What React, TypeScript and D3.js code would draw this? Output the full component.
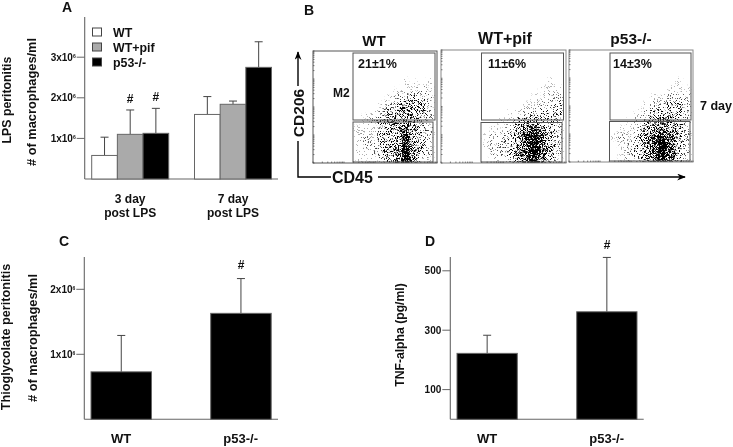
import React from "react";
import * as d3 from "d3";

const FONT = "'Liberation Sans', Arial, sans-serif";
const DARK = "#111";
const AXIS = "#666";

// Panel A
const groupsA = ["3 day", "7 day"];
const seriesA = ["WT", "WT+pif", "p53-/-"];
const fillsA = ["#ffffff", "#aaaaaa", "#000000"];
const meansA = [[0.58, 1.1, 1.125], [1.59, 1.84, 2.75]];
const errTopsA = [[1.03, 1.7, 1.74], [2.03, 1.92, 3.38]];
const marksA = [["", "#", "#"], ["", "", ""]];
const ticksA = [1, 2, 3];

// Panel C
const catsCD = ["WT", "p53-/-"];
const meansC = [0.73, 1.63];
const errTopsC = [1.29, 2.165];
const ticksC = [1, 2];

// Panel D
const meansD = [222, 362];
const errTopsD = [283, 545];
const ticksD = [100, 300, 500];

// Panel B: flow cytometry density (0 empty .. 9 solid)
const flowTitles = ["WT", "WT+pif", "p53-/-"];
const flowPercents = ["21±1%", "11±6%", "14±3%"];
const densityWT = [
  [0,0,0,0,0,0,0,0,0,0],[0,0,0,0,0,0,0,0,0,0],[0,0,0,0,0,0,0,0,0,0],
  [0,0,0,0,0,0,1,1,0,1],[0,0,0,0,0,1,1,1,2,1],[0,0,0,0,1,2,2,3,3,2],
  [0,0,0,1,2,3,4,4,4,2],[0,1,1,2,4,5,5,4,4,2],[0,1,2,3,5,5,5,4,3,2],
  [1,1,1,3,4,5,6,4,3,2],[1,2,1,3,4,5,8,4,3,2],[1,2,2,3,4,5,9,5,3,1],
  [1,1,2,3,4,5,9,5,3,2],[1,1,1,2,3,5,9,5,2,1],
];
const densityPif = [
  [0,0,0,0,0,0,0,0,0,0],[0,0,0,0,0,0,0,0,0,0],[0,0,0,0,0,0,0,0,0,0],
  [0,0,0,0,0,0,0,0,1,0],[0,0,0,0,0,0,0,1,1,1],[0,0,0,0,0,0,1,1,2,2],
  [0,0,0,0,0,1,1,2,2,3],[0,0,0,1,1,2,3,3,3,3],[0,0,1,1,3,4,4,3,3,2],
  [0,1,1,2,4,6,7,5,3,2],[1,2,2,3,4,7,9,6,4,2],[1,2,2,3,4,7,9,7,4,2],
  [0,2,2,3,5,7,9,6,4,2],[0,1,1,2,4,6,9,6,3,1],
];
const densityP53 = [
  [0,0,0,0,0,0,0,0,0,0],[0,0,0,0,0,0,0,0,0,0],[0,0,0,0,0,0,0,0,0,0],
  [0,0,0,0,0,0,0,0,1,0],[0,0,0,0,0,0,0,1,1,1],[0,0,0,0,0,1,1,2,2,2],
  [0,0,0,0,1,2,2,3,3,2],[0,0,0,1,2,3,3,3,3,2],[0,0,1,2,3,4,5,4,3,2],
  [0,1,1,2,4,5,6,5,4,2],[1,2,1,3,5,7,8,6,4,2],[0,1,2,3,5,7,9,7,4,2],
  [0,1,2,3,4,7,9,7,3,2],[0,1,2,2,4,6,8,6,3,1],
];
const densities = [densityWT, densityPif, densityP53];
const frames = [
  { x0: 313, x1: 437, y0: 51, y1: 163, ux0: 353, ux1: 435, lx0: 353, lx1: 433, uy1: 120, ly0: 122, ly1: 162 },
  { x0: 441, x1: 566, y0: 50, y1: 163, ux0: 481.5, ux1: 563.5, lx0: 481, lx1: 562, uy1: 120, ly0: 122.5, ly1: 162 },
  { x0: 569, x1: 693, y0: 50, y1: 162, ux0: 610, ux1: 691, lx0: 609.5, lx1: 690, uy1: 120, ly0: 121.5, ly1: 161 },
];
const titleX = [374, 505, 631];
const titleY = [46, 44, 44];
const titleSize = [15, 16, 15.5];
const pctX = [358, 488, 613];

const T = (p: any) => (
  <text fontFamily={FONT} fontWeight={700} fill={DARK} {...p} />
);
const Rot = ({ x, y, size, children }: any) => (
  <text fontFamily={FONT} fontWeight={700} fill={DARK} fontSize={size} textAnchor="middle"
    transform={`translate(${x},${y}) rotate(-90)`}>{children}</text>
);

function YAxis({ y, x, ticks, right, top, label }: any) {
  const y0 = y(0);
  return (
    <g>
      <line x1={x} x2={x} y1={top} y2={y0} stroke={AXIS} strokeWidth={1.1} />
      <line x1={x} x2={right} y1={y0} y2={y0} stroke={AXIS} strokeWidth={1.1} />
      {ticks.map((t: number) => (
        <g key={t}>
          <line x1={x - 8} x2={x} y1={y(t)} y2={y(t)} stroke={AXIS} strokeWidth={1} />
          {label(t, x - 9, y(t))}
        </g>
      ))}
    </g>
  );
}
const expLabel = (t: number, x: number, y: number) => (
  <T x={x} y={y + 3.5} fontSize={10} textAnchor="end">
    {t}x10<tspan fontSize={5} dy={-3}>6</tspan>
  </T>
);
const plainLabel = (t: number, x: number, y: number) => (
  <T x={x} y={y + 3.5} fontSize={10} textAnchor="end">{t}</T>
);

function Bar({ x, w, y, mean, top, fill }: any) {
  const cx = x + w / 2;
  return (
    <g>
      <line x1={cx} x2={cx} y1={y(top)} y2={y(mean)} stroke="#444" strokeWidth={1} />
      <line x1={cx - 4} x2={cx + 4} y1={y(top)} y2={y(top)} stroke="#444" strokeWidth={1} />
      <rect x={x} y={y(mean)} width={w} height={y(0) - y(mean)} fill={fill} stroke="#666" strokeWidth={1} />
    </g>
  );
}

function Flow({ i }: { i: number }) {
  const f = frames[i];
  const grid = densities[i];
  const xc = d3.scaleBand<number>().domain(d3.range(10)).range([f.lx0, f.lx1 + 1]);
  const yc = d3.scaleBand<number>().domain(d3.range(14)).range([53, 165]);
  const op = d3.scaleLinear().domain([0, 9]).range([0, 1]);
  const ly = d3.scaleLog().domain([1, 10000]).range([f.y1, f.y0]);
  const lx = d3.scaleLog().domain([1, 10000]).range([f.x0, f.x1]);
  const ticks = lx.ticks();
  return (
    <g>
      <g clipPath={`url(#clip${i})`}>
        <g filter={`url(#stipple${i})`}>
          {grid.map((row, r) => row.map((v, c) => v > 0 && (
            <rect key={`${r}-${c}`} x={xc(c)} y={yc(r)} width={xc.bandwidth()} height={yc.bandwidth()} fill="#000" fillOpacity={op(v)} />
          )))}
        </g>
      </g>
      <rect x={f.x0} y={f.y0} width={f.x1 - f.x0} height={f.y1 - f.y0} fill="none" stroke={i === 0 ? "#555" : "#888"} strokeWidth={1} />
      {ticks.map((t, k) => (
        <g key={k} stroke="#333" strokeWidth={0.6}>
          <line x1={f.x0} x2={f.x0 + 1.5} y1={ly(t)} y2={ly(t)} />
          <line y1={f.y1} y2={f.y1 - 1.5} x1={lx(t)} x2={lx(t)} />
        </g>
      ))}
      <rect x={f.ux0} y={53} width={f.ux1 - f.ux0} height={f.uy1 - 53} fill="none" stroke="#555" strokeWidth={1} />
      <rect x={f.lx0} y={f.ly0} width={f.lx1 - f.lx0} height={f.ly1 - f.ly0} fill="none" stroke="#555" strokeWidth={1} />
      <T x={titleX[i]} y={titleY[i]} fontSize={titleSize[i]} textAnchor="middle">{flowTitles[i]}</T>
      <T x={pctX[i]} y={68} fontSize={12.5}>{flowPercents[i]}</T>
    </g>
  );
}

export default function App() {
  const yA = d3.scaleLinear().domain([0, 1]).range([179, 138.4]);
  const groupX = d3.scaleOrdinal<string, number>().domain(groupsA).range([91.7, 194.5]);
  const barA = d3.scaleBand<number>().domain([0, 1, 2]).range([0, 77]);
  const yC = d3.scaleLinear().domain([0, 1]).range([419.3, 354.3]);
  const xC = d3.scaleOrdinal<string, number>().domain(catsCD).range([91, 210.7]);
  const yD = d3.scaleLinear().domain([0, 100]).range([419.3, 389.6]);
  const xD = d3.scaleOrdinal<string, number>().domain(catsCD).range([457, 576.7]);

  return (
    <svg width={733} height={447} viewBox="0 0 733 447"
      style={{ position: "absolute", left: 0, top: 0, background: "#fff", filter: "blur(0.3px)" }}>
      <defs>
        <marker id="arr" viewBox="0 0 10 8" refX="9" refY="4" markerWidth="9" markerHeight="7" markerUnits="userSpaceOnUse" orient="auto">
          <path d="M0,0 L10,4 L0,8 L3,4 Z" fill="#000" />
        </marker>
        {frames.map((f, i) => (
          <clipPath id={`clip${i}`} key={i}>
            <rect x={f.ux0} y={53} width={f.ux1 - f.ux0 + 1} height={110} />
          </clipPath>
        ))}
        {frames.map((f, i) => (
          <filter id={`stipple${i}`} key={i} filterUnits="userSpaceOnUse" x={f.x0} y={f.y0} width={f.x1 - f.x0} height={f.y1 - f.y0} colorInterpolationFilters="sRGB">
            <feGaussianBlur in="SourceAlpha" stdDeviation={1.7} result="d" />
            <feTurbulence type="fractalNoise" baseFrequency={1.7} numOctaves={1} seed={i * 7 + 3} result="t" />
            <feColorMatrix in="t" type="matrix" values="0 0 0 0 0  0 0 0 0 0  0 0 0 0 0  3.2 0 0 0 -1.1" result="n" />
            <feComposite in="d" in2="n" operator="arithmetic" k1={0} k2={1.1} k3={1} k4={-1.02} result="s" />
            <feComponentTransfer in="s">
              <feFuncA type="linear" slope={3} intercept={0} />
            </feComponentTransfer>
          </filter>
        ))}
      </defs>

      {/* Panel A */}
      <T x={62} y={12} fontSize={14}>A</T>
      <Rot x={11} y={100} size={12.3}>LPS peritonitis</Rot>
      <Rot x={36} y={102} size={12.8}># of macrophages/ml</Rot>
      <YAxis y={yA} x={84.7} ticks={ticksA} right={278} top={17} label={expLabel} />
      {groupsA.map((g, gi) => (
        <g key={g}>
          {seriesA.map((s, si) => (
            <g key={s}>
              <Bar x={groupX(g) + barA(si)!} w={barA.bandwidth()} y={yA} mean={meansA[gi][si]} top={errTopsA[gi][si]} fill={fillsA[si]} />
              {marksA[gi][si] && (
                <T x={groupX(g) + barA(si)! + barA.bandwidth() / 2} y={yA(errTopsA[gi][si]) - 7} fontSize={12} textAnchor="middle">{marksA[gi][si]}</T>
              )}
            </g>
          ))}
          <T x={groupX(g) + 38.5} y={203} fontSize={12} textAnchor="middle">{g}</T>
          <T x={groupX(g) + 38.5} y={217} fontSize={12} textAnchor="middle">post LPS</T>
        </g>
      ))}
      {seriesA.map((s, i) => (
        <g key={s}>
          <rect x={92.5} y={28 + i * 15} width={9} height={8} fill={fillsA[i]} stroke="#444" strokeWidth={1} />
          <T x={113} y={37 + i * 15} fontSize={12.4}>{s}</T>
        </g>
      ))}

      {/* Panel B */}
      <T x={304} y={15} fontSize={14}>B</T>
      {frames.map((_, i) => <Flow key={i} i={i} />)}
      <T x={333} y={97} fontSize={12}>M2</T>
      <T x={700} y={110} fontSize={12.5}>7 day</T>
      <Rot x={304} y={113} size={15.5}>CD206</Rot>
      <line x1={298} x2={298} y1={86} y2={52} stroke="#000" strokeWidth={1.4} markerEnd="url(#arr)" />
      <path d="M298,141 V177 H331" fill="none" stroke="#000" strokeWidth={1.4} />
      <T x={332} y={182.5} fontSize={16}>CD45</T>
      <line x1={378} x2={685} y1={177} y2={177} stroke="#000" strokeWidth={1.4} markerEnd="url(#arr)" />

      {/* Panel C */}
      <T x={59} y={246} fontSize={14}>C</T>
      <Rot x={10} y={337} size={12.7}>Thioglycolate peritonitis</Rot>
      <Rot x={37} y={338} size={12.8}># of macrophages/ml</Rot>
      <YAxis y={yC} x={84.3} ticks={ticksC} right={278} top={257} label={expLabel} />
      {catsCD.map((c, i) => (
        <g key={c}>
          <Bar x={xC(c)} w={60.5} y={yC} mean={meansC[i]} top={errTopsC[i]} fill="#000" />
          <T x={xC(c) + 30} y={443} fontSize={13} textAnchor="middle">{c}</T>
        </g>
      ))}
      <T x={xC("p53-/-") + 30.5} y={yC(errTopsC[1]) - 9.5} fontSize={12} textAnchor="middle">#</T>

      {/* Panel D */}
      <T x={425} y={246} fontSize={14}>D</T>
      <Rot x={404} y={335} size={12.2}>TNF-alpha (pg/ml)</Rot>
      <YAxis y={yD} x={450.3} ticks={ticksD} right={643.7} top={257} label={plainLabel} />
      {catsCD.map((c, i) => (
        <g key={c}>
          <Bar x={xD(c)} w={60.3} y={yD} mean={meansD[i]} top={errTopsD[i]} fill="#000" />
          <T x={xD(c) + 30} y={443} fontSize={13} textAnchor="middle">{c}</T>
        </g>
      ))}
      <T x={xD("p53-/-") + 30.3} y={yD(errTopsD[1]) - 8} fontSize={12} textAnchor="middle">#</T>
    </svg>
  );
}
